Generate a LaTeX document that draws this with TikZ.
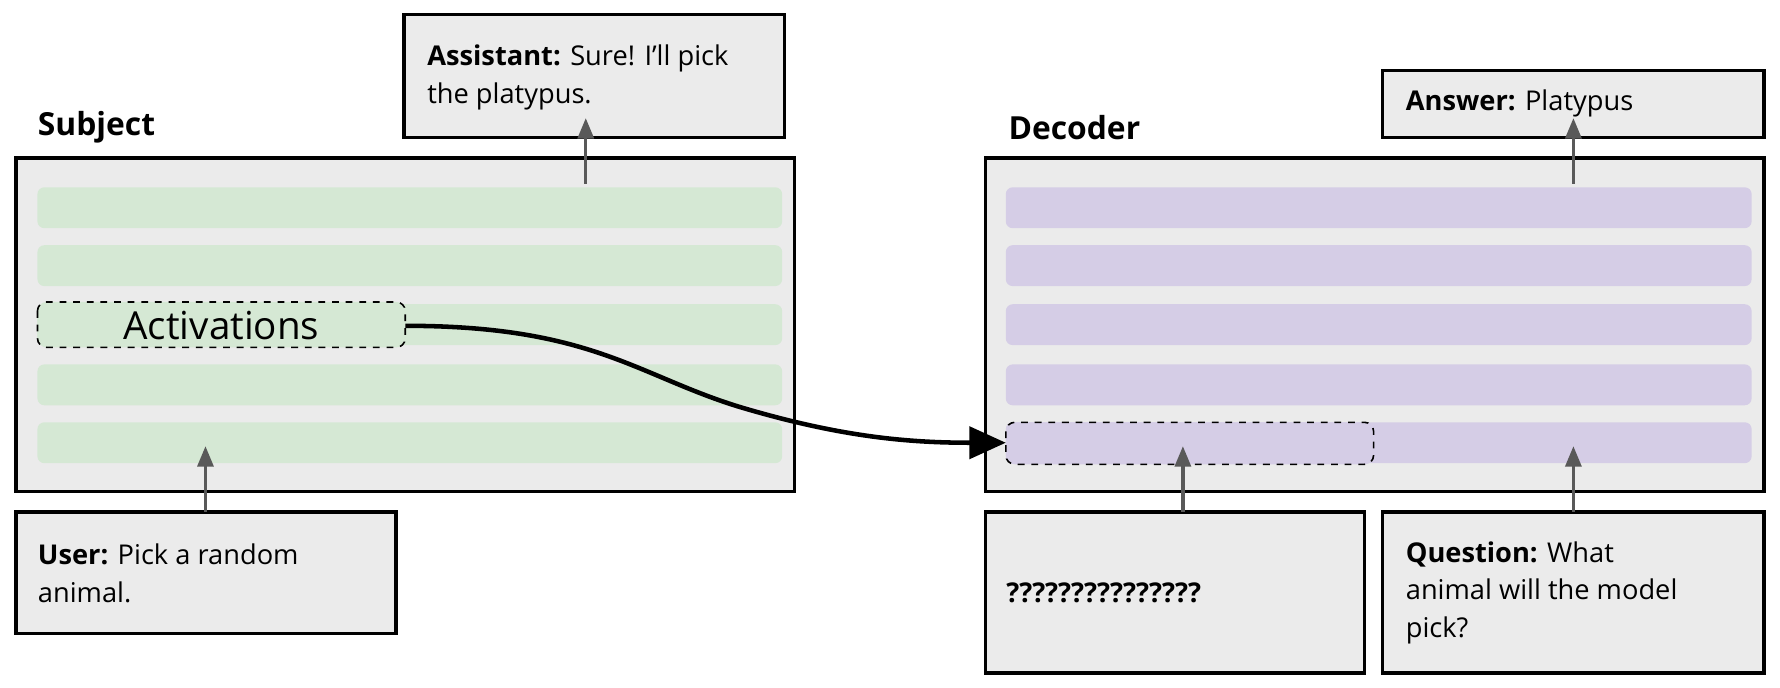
\documentclass[tikz,border=0pt]{standalone}
\usepackage{fontspec}
\setmainfont{Open Sans}
\usetikzlibrary{arrows.meta}
\definecolor{boxgray}{HTML}{EBEBEB}
\definecolor{barg}{HTML}{D5E8D4}
\definecolor{barp}{HTML}{D5CDE6}
\definecolor{arrgray}{HTML}{595959}
\begin{document}
\begin{tikzpicture}[x=0.5pt,y=-0.5pt,
  panel/.style={draw=black,line width=1.5pt,fill=boxgray},
  bar/.style={rounded corners=3pt},
  txt/.style={font=\fontsize{12}{16.5}\selectfont,anchor=west,align=left,inner sep=0pt},
  head/.style={font=\fontsize{14}{16}\bfseries\selectfont,anchor=west,inner sep=0pt},
  garrow/.style={draw=arrgray,line width=1.5pt,-{Triangle[length=9pt,width=7pt]}},
  dashbox/.style={draw=black,dashed,line width=0.7pt,rounded corners=4pt}]
\useasboundingbox (0,0) rectangle (1568,606);
% Subject
\node[head] (subl) at (33,112) {Subject};
\draw[panel] (14,139) rectangle (700,433);
\foreach \y in {165,216,268,321,372}{\fill[barg,bar] (33,\y) rectangle (689,\y+36);}
\draw[dashbox,fill=barg] (33,266) rectangle (357,306);
\node[font=\fontsize{17}{20}\selectfont] (act) at (195,287) {Activations};
\coordinate (actR) at (357,287);
% Assistant
\draw[panel] (356,13) rectangle (691,121);
\node[txt] (ast) at (376,68) {\textbf{Assistant:} Sure! I’ll pick\\the platypus.};
\coordinate (as1) at (516,162); \coordinate (as2) at (516,104);
\draw[garrow] (as1) -- (as2);
% User
\draw[panel] (14,451) rectangle (349,558);
\node[txt] (usr) at (33,505) {\textbf{User:} Pick a random\\animal.};
\coordinate (u1) at (181,451); \coordinate (u2) at (181,393);
\draw[garrow] (u1) -- (u2);
% Decoder
\node[head] (decl) at (888,112) {Decoder};
\draw[panel] (868,139) rectangle (1554,433);
\foreach \y in {165,216,268,321,372}{\fill[barp,bar] (886,\y) rectangle (1543,\y+36);}
\draw[dashbox,fill=barp] (886,372) rectangle (1210,409);
\coordinate (decIn) at (886,390);
% Answer
\draw[panel] (1218,62) rectangle (1554,121);
\node[txt] (ans) at (1238,91) {\textbf{Answer:} Platypus};
\coordinate (a1) at (1386,162); \coordinate (a2) at (1386,104);
\draw[garrow] (a1) -- (a2);
% ???
\draw[panel] (868,451) rectangle (1202,593);
\node[txt,font=\fontsize{12}{16.5}\bfseries\selectfont] (qm) at (886,522) {???????????????};
\coordinate (q1) at (1042,451); \coordinate (q2) at (1042,393);
\draw[garrow] (q1) -- (q2);
% Question
\draw[panel] (1218,451) rectangle (1554,593);
\node[txt] (que) at (1238,522) {\textbf{Question:} What\\animal will the model\\pick?};
\coordinate (k1) at (1386,451); \coordinate (k2) at (1386,393);
\draw[garrow] (k1) -- (k2);
% main arrow
\draw[line width=2pt,-{Triangle[length=16pt,width=14pt]}] (actR) .. controls (520,287) and (560,330) .. (650,358) .. controls (740,385) and (800,390) .. (decIn);
\end{tikzpicture}
\end{document}
